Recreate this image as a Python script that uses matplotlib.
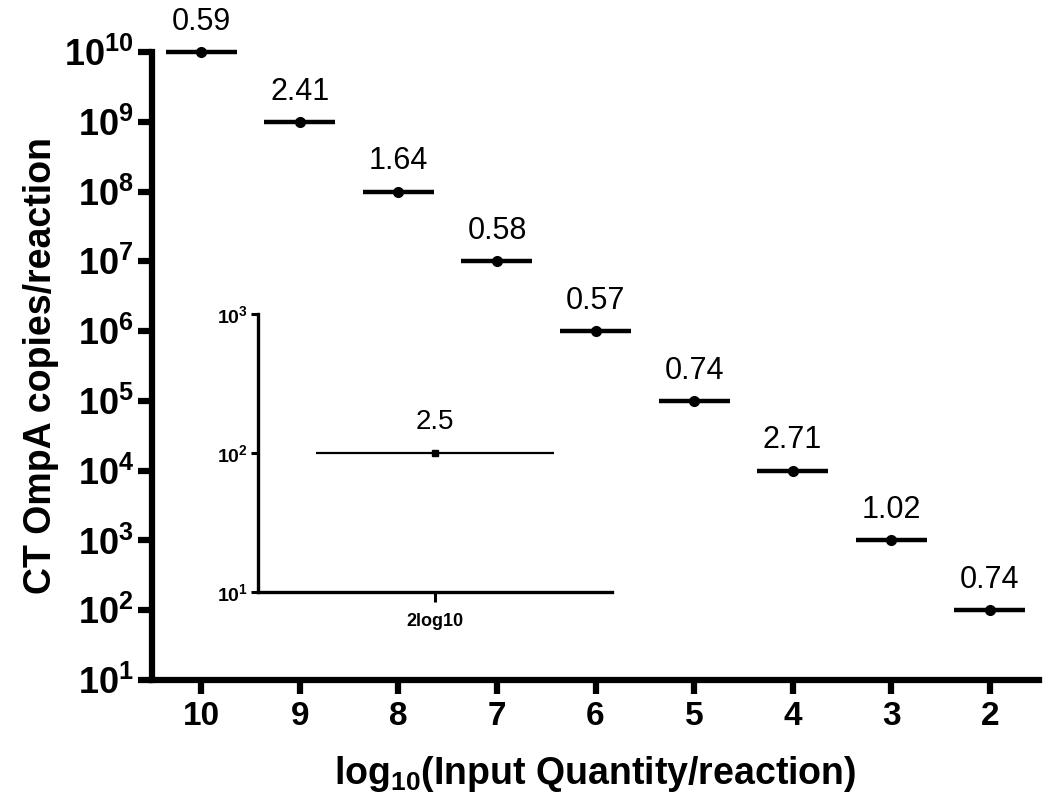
import matplotlib
matplotlib.use("Agg")
import matplotlib.pyplot as plt
from matplotlib.ticker import FuncFormatter, NullLocator
import numpy as np

# data
inputs = ["10", "9", "8", "7", "6", "5", "4", "3", "2"]
copies = [1e10, 1e9, 1e8, 1e7, 1e6, 1e5, 1e4, 1e3, 1e2]
cv = [0.59, 2.41, 1.64, 0.58, 0.57, 0.74, 2.71, 1.02, 0.74]

inset_label = "2log10"
inset_copies = [1e2]
inset_cv = [2.5]

plt.rcParams["font.family"] = ["Liberation Sans", "DejaVu Sans"]
plt.rcParams["mathtext.fontset"] = "custom"
plt.rcParams["mathtext.rm"] = "Liberation Sans:bold"
plt.rcParams["mathtext.bf"] = "Liberation Sans:bold"
plt.rcParams["mathtext.it"] = "Liberation Sans:bold"

pow10 = FuncFormatter(lambda v, pos: r"$\mathbf{10^{%d}}$" % round(np.log10(v)))

fig = plt.figure(figsize=(10.5, 8.09), dpi=100)
ax = fig.add_axes([0.1448, 0.1595, 0.8447, 0.7762])

x = np.arange(len(inputs))
hw = 0.36
ax.hlines(copies, x - hw, x + hw, color="black", lw=3.2, clip_on=False)
ax.plot(x, copies, "o", color="black", ms=7, clip_on=False)
for xi, yi, c in zip(x, copies, cv):
    ax.annotate(f"{c:.2f}", (xi, yi), xytext=(0, 11), textcoords="offset points",
                ha="center", va="bottom", fontsize=22)

ax.set_yscale("log")
ax.set_ylim(10, 1e10)
ax.set_xlim(-0.5, 8.5)
ax.set_xticks(x)
ax.set_xticklabels(inputs, fontsize=24, fontweight="bold")
ax.set_yticks([10.0 ** k for k in range(1, 11)])
ax.yaxis.set_major_formatter(pow10)
ax.yaxis.set_minor_locator(NullLocator())
ax.tick_params(axis="y", labelsize=26, width=4.5, length=10, direction="out", pad=3)
ax.tick_params(axis="x", width=4.5, length=10, direction="out", pad=5)
for side in ["top", "right"]:
    ax.spines[side].set_visible(False)
for side in ["left", "bottom"]:
    ax.spines[side].set_linewidth(4.5)
ax.set_ylabel("CT OmpA copies/reaction", fontsize=27, fontweight="bold", labelpad=4)
ax.set_xlabel(r"log$_{10}$(Input Quantity/reaction)", fontsize=27, fontweight="bold", labelpad=16)

# inset
ins = fig.add_axes([0.2457, 0.2682, 0.3371, 0.3437])
ins.set_facecolor("none")
ix = np.arange(len(inset_copies))
ins.hlines(inset_copies, ix - 0.335, ix + 0.335, color="black", lw=1.6)
ins.plot(ix, inset_copies, "s", color="black", ms=4.5)
for xi, yi, c in zip(ix, inset_copies, inset_cv):
    ins.annotate(f"{c:g}", (xi, yi), xytext=(0, 13), textcoords="offset points",
                 ha="center", va="bottom", fontsize=20)
ins.set_yscale("log")
ins.set_ylim(10, 1e3)
ins.set_xlim(-0.5, 0.5)
ins.set_xticks(ix)
ins.set_xticklabels([inset_label], fontsize=13, fontweight="bold")
ins.set_yticks([1e1, 1e2, 1e3])
ins.yaxis.set_major_formatter(pow10)
ins.yaxis.set_minor_locator(NullLocator())
ins.tick_params(axis="y", labelsize=14, width=2.2, length=5, pad=2)
ins.tick_params(axis="x", width=2.2, length=7, pad=8)
for side in ["top", "right"]:
    ins.spines[side].set_visible(False)
for side in ["left", "bottom"]:
    ins.spines[side].set_linewidth(2.4)

fig.savefig("out.png", dpi=100)
